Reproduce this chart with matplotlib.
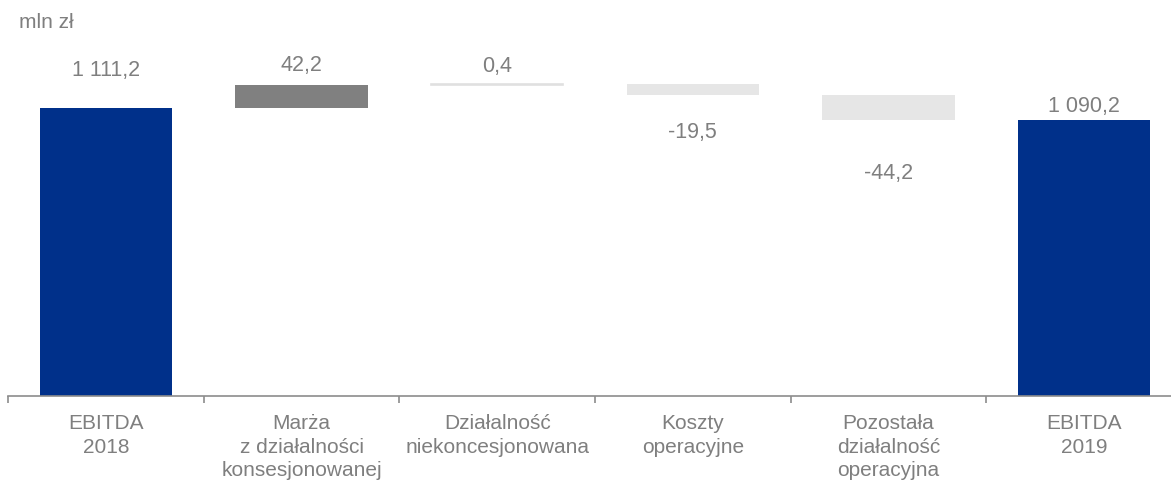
import matplotlib
matplotlib.use("Agg")
import matplotlib.pyplot as plt
import numpy as np

plt.rcParams['font.family'] = ['Liberation Sans', 'DejaVu Sans']

# dane
categories = ["EBITDA\n2018", "Marża\nz działalności\nkonsesjonowanej", "Działalność\nniekoncesjonowana",
              "Koszty\noperacyjne", "Pozostała\ndziałalność\noperacyjna", "EBITDA\n2019"]
start_value = 1111.2
deltas = [42.2, 0.4, -19.5, -44.2]
end_value = 1090.2
value_labels = ["1 111,2", "42,2", "0,4", "-19,5", "-44,2", "1 090,2"]
colors = ["#00308a", "#808080", "#e0e0e0", "#e6e6e6", "#e6e6e6", "#00308a"]
# odstep linii bazowej etykiety od krawedzi slupka (piksele)
label_offsets = [32, 14, 12, -43, -59, 8]

ymin = 600
txt_color = "#7f7f7f"

# waterfall
bottoms = [ymin]
heights = [start_value - ymin]
running = start_value
for d in deltas:
    if d >= 0:
        bottoms.append(running)
        heights.append(d)
    else:
        bottoms.append(running + d)
        heights.append(-d)
    running += d
bottoms.append(ymin)
heights.append(end_value - ymin)

W, H = 1171, 483
fig = plt.figure(figsize=(W / 100, H / 100), dpi=100)
base_px = 396
ax = fig.add_axes([8 / W, (H - base_px) / H, (1182 - 8) / W, base_px / H])
x = np.arange(len(categories))
ax.bar(x, heights, bottom=bottoms, width=0.675, color=colors, edgecolor=colors,
       linewidth=[0, 0, 1.2, 0, 0, 0])

ax.set_xlim(-0.5, len(categories) - 0.5)
ax.set_ylim(ymin, ymin + base_px / 0.5625)

for i in range(len(categories)):
    off = label_offsets[i]
    anchor = bottoms[i] + heights[i] if off > 0 else bottoms[i]
    ax.annotate(value_labels[i], (x[i], anchor), xytext=(0, off * 0.72),
                textcoords="offset points", ha="center", va="baseline",
                fontsize=15.5, color=txt_color)

for s in ["top", "right", "left"]:
    ax.spines[s].set_visible(False)
ax.spines["bottom"].set_color("#8c8c8c")
ax.spines["bottom"].set_linewidth(1.2)
ax.set_yticks([])
ax.set_xticks(x)
ax.set_xticklabels(categories, fontsize=15, color=txt_color, linespacing=1.3)
ax.tick_params(axis="x", which="major", length=0, pad=13)
ax.set_xticks(np.arange(-0.5, len(categories) - 0.5, 1), minor=True)
ax.tick_params(axis="x", which="minor", length=5, width=1.2, color="#8c8c8c", direction="out")

fig.text(19 / W, 1 - 28 / H, "mln zł", fontsize=15, color=txt_color, ha="left", va="baseline")

fig.savefig("out.png", dpi=100)
